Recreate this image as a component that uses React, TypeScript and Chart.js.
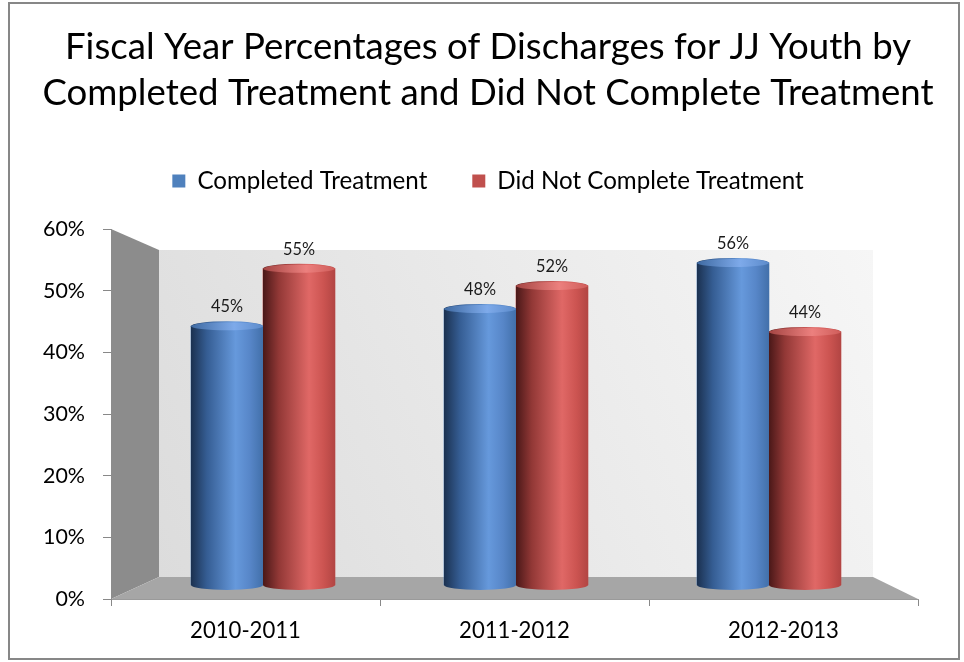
import React, { useEffect, useRef } from 'react';
import { Chart, registerables } from 'chart.js';

Chart.register(...registerables);

// ---- data ----
const categories = ['2010-2011', '2011-2012', '2012-2013'];
const seriesNames = ['Completed Treatment', 'Did Not Complete Treatment'];
const completed = [45, 48, 56];
const notCompleted = [55, 52, 44];
const yMin = 0;
const yMax = 60;
const yStep = 10;
const titleLines = [
  'Fiscal Year Percentages of Discharges for JJ Youth by',
  'Completed Treatment and Did Not Complete Treatment',
];

// ---- styles ----
const FAMILY = 'Lato, "Open Sans", sans-serif';
const legendColors = ['#4f81bd', '#c0504d'];
const cylStops: [number, string][][] = [
  [
    [0, '#1b3150'],
    [0.22, '#355d93'],
    [0.62, '#6699dc'],
    [0.82, '#5786c8'],
    [1, '#4270aa'],
  ],
  [
    [0, '#4a1818'],
    [0.22, '#923836'],
    [0.64, '#e06866'],
    [0.84, '#cc5451'],
    [1, '#b24543'],
  ],
];
const capStops: [number, string][][] = [
  [
    [0, '#3f6aa2'],
    [0.6, '#7eaaea'],
    [1, '#5c8bcb'],
  ],
  [
    [0, '#a44543'],
    [0.6, '#ec807e'],
    [1, '#cf5d5a'],
  ],
];

function fitSize(text: string, target: number, weight = 'normal') {
  const c = document.createElement('canvas').getContext('2d')!;
  c.font = `${weight} 100px ${FAMILY}`;
  const w = c.measureText(text).width;
  return (100 * target) / w;
}

function drawCylinder(
  ctx: CanvasRenderingContext2D,
  cx: number,
  w: number,
  top: number,
  base: number,
  stops: [number, string][],
  cap: [number, string][]
) {
  const left = cx - w / 2;
  const rx = w / 2;
  const ry = 5;
  const g = ctx.createLinearGradient(left, 0, left + w, 0);
  stops.forEach(([o, c]) => g.addColorStop(o, c));
  ctx.fillStyle = g;
  ctx.beginPath();
  ctx.moveTo(left, top);
  ctx.lineTo(left, base);
  ctx.ellipse(cx, base, rx, ry, 0, Math.PI, 0, true);
  ctx.lineTo(left + w, top);
  ctx.ellipse(cx, top, rx, ry, 0, 0, Math.PI, true);
  ctx.closePath();
  ctx.fill();
  const cg = ctx.createLinearGradient(left, 0, left + w, 0);
  cap.forEach(([o, c]) => cg.addColorStop(o, c));
  ctx.fillStyle = cg;
  ctx.beginPath();
  ctx.ellipse(cx, top, rx, ry - 1, 0, 0, Math.PI * 2);
  ctx.fill();
}

export default function App() {
  const ref = useRef<HTMLCanvasElement>(null);

  useEffect(() => {
    const titleSize = (fitSize(titleLines[0], 838) + fitSize(titleLines[1], 900)) / 2;
    const legendSize = fitSize(seriesNames[0], 230);
    const xTickSize = fitSize(categories[0], 111);
    const yTickSize = fitSize('60%', 42);
    const labelSize = fitSize('45%', 32);

    const topPad = 4;
    const titlePadTop = 20;
    const titleLH = 46;
    const legendPad = 45;
    const legendTop = 181 - legendPad - legendSize / 2;
    const titlePadBottom = legendTop - (topPad + titlePadTop + titleLH * 2);
    const legendBottom = legendTop + legendSize + legendPad + 10;
    const spacer = 229 - legendBottom - 1;

    const frame3d = {
      id: 'frame3d',
      beforeDraw(chart: any) {
        const { ctx } = chart;
        const { left: L, right: R, top: T, bottom: B } = chart.chartArea;
        ctx.save();
        ctx.fillStyle = '#ffffff';
        ctx.fillRect(0, 0, chart.width, chart.height);
        ctx.strokeStyle = '#878787';
        ctx.lineWidth = 2;
        ctx.strokeRect(9, 3, 950, 656);
        const bl = L + 48;
        const br = R - 45;
        const bt = T + 21;
        const bb = B - 22;
        const g = ctx.createLinearGradient(bl, bb, br, bt);
        g.addColorStop(0, '#dcdcdc');
        g.addColorStop(1, '#f6f6f6');
        ctx.fillStyle = g;
        ctx.fillRect(bl, bt, br - bl, bb - bt);
        ctx.fillStyle = '#8c8c8c';
        ctx.beginPath();
        ctx.moveTo(L, T);
        ctx.lineTo(bl, bt);
        ctx.lineTo(bl, bb);
        ctx.lineTo(L, B);
        ctx.closePath();
        ctx.fill();
        ctx.fillStyle = '#a6a6a6';
        ctx.beginPath();
        ctx.moveTo(bl, bb);
        ctx.lineTo(br, bb);
        ctx.lineTo(R, B);
        ctx.lineTo(L, B);
        ctx.closePath();
        ctx.fill();
        ctx.restore();
      },
    };

    const cylinders = {
      id: 'cylinders',
      afterDatasetsDraw(chart: any) {
        const { ctx } = chart;
        ctx.save();
        const labels: { x: number; y: number; t: string }[] = [];
        chart.data.datasets.forEach((ds: any, di: number) => {
          const meta = chart.getDatasetMeta(di);
          meta.data.forEach((el: any, j: number) => {
            const { x, y, base, width } = el.getProps(['x', 'y', 'base', 'width'], true);
            drawCylinder(ctx, x, width, y, base, cylStops[di], capStops[di]);
            labels.push({ x, y: y - 19, t: `${ds.data[j].y}%` });
          });
        });
        ctx.fillStyle = '#1a1a1a';
        ctx.font = `${labelSize}px ${FAMILY}`;
        ctx.textAlign = 'center';
        ctx.textBaseline = 'middle';
        labels.forEach((l) => ctx.fillText(l.t, l.x, l.y));
        ctx.restore();
      },
    };

    const chart = new Chart(ref.current!, {
      type: 'bar',
      data: {
        labels: categories,
        datasets: [
          {
            label: seriesNames[0],
            data: completed.map((v, i) => ({ x: i, y: v })),
            backgroundColor: legendColors[0],
            borderWidth: 0,
            xAxisID: 'xb',
            yAxisID: 'yb',
            barThickness: 72,
          },
          {
            label: seriesNames[1],
            data: notCompleted.map((v, i) => ({ x: i, y: v })),
            backgroundColor: legendColors[1],
            borderWidth: 0,
            xAxisID: 'xb',
            yAxisID: 'yb',
            barThickness: 72,
          },
        ] as any,
      },
      options: {
        responsive: false,
        animation: false,
        events: [],
        layout: { padding: { left: 41, right: 29, top: topPad, bottom: 6 } },
        scales: {
          x: {
            type: 'category',
            labels: categories,
            offset: true,
            position: 'bottom',
            grid: { offset: true, drawOnChartArea: false, tickLength: 7, color: '#888888' },
            border: { display: true, color: '#9a9a9a' },
            ticks: {
              color: '#000000',
              padding: 11.5,
              font: { family: FAMILY, size: xTickSize, lineHeight: '27px' },
            },
          },
          y: {
            type: 'linear',
            position: 'left',
            min: yMin,
            max: yMax,
            afterFit: (axis: any) => {
              axis.width = 70;
            },
            grid: { drawOnChartArea: false, tickLength: 8, color: '#888888' },
            border: { display: true, color: '#8c8c8c' },
            ticks: {
              stepSize: yStep,
              padding: 18,
              color: '#000000',
              callback: (v: any) => `${v}%`,
              font: { family: FAMILY, size: yTickSize },
            },
          },
          xb: {
            type: 'linear',
            display: false,
            offset: false,
            min: -0.6008,
            max: 2.589,
          },
          yb: {
            type: 'linear',
            position: 'right',
            display: true,
            min: -2.435,
            max: 61.9,
            afterFit: (axis: any) => {
              axis.width = 17;
            },
            grid: { display: false, drawTicks: false },
            border: { display: false },
            ticks: { display: false },
          },
        } as any,
        plugins: {
          title: {
            display: true,
            text: titleLines,
            color: '#000000',
            padding: { top: titlePadTop, bottom: titlePadBottom },
            font: { family: FAMILY, size: titleSize, weight: 'normal', lineHeight: `${titleLH}px` },
          },
          subtitle: {
            display: true,
            text: '',
            weight: 500,
            color: 'rgba(0,0,0,0)',
            padding: { top: spacer, bottom: 0 },
            font: { size: 1, lineHeight: '1px' },
          } as any,
          legend: {
            display: true,
            position: 'top',
            labels: {
              boxWidth: 13,
              boxHeight: 13,
              padding: legendPad,
              color: '#000000',
              font: { family: FAMILY, size: legendSize },
            },
          },
          tooltip: { enabled: false },
        },
      },
      plugins: [frame3d, cylinders],
    });
    return () => chart.destroy();
  }, []);

  return (
    <div style={{ position: 'absolute', left: 0, top: 0, width: 964, height: 662 }}>
      <canvas ref={ref} width={964} height={662} style={{ display: 'block' }} />
    </div>
  );
}
